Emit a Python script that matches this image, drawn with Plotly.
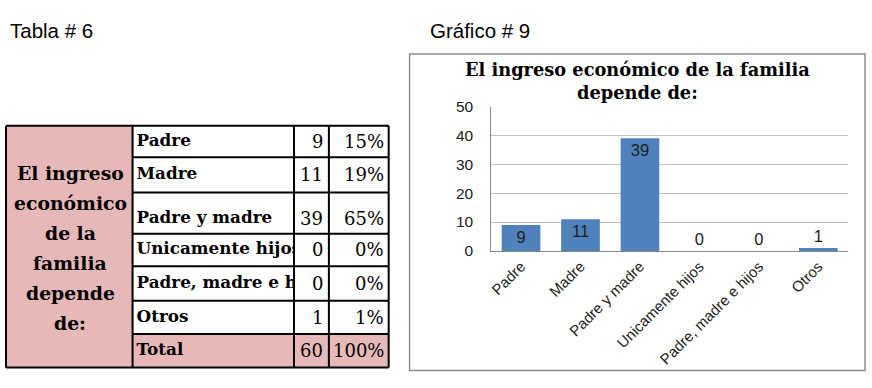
import plotly.graph_objects as go

# ---------------- data ----------------
categories = ["Padre", "Madre", "Padre y madre", "Unicamente hijos",
              "Padre, madre e hijos", "Otros"]
counts = [9, 11, 39, 0, 0, 1]
percents = ["15%", "19%", "65%", "0%", "0%", "1%"]
total_label = "Total"
total_count = 60
total_percent = "100%"
header_lines = ["El ingreso", "económico", "de la", "familia", "depende", "de:"]
chart_title = "El ingreso económico de la familia<br>depende de:"
table_caption = "Tabla # 6"
chart_caption = "Gráfico # 9"
y_ticks = [0, 10, 20, 30, 40, 50]

# ---------------- geometry helpers ----------------
W, H = 872, 388
def px(x):
    return x / W
def py(y):
    return 1 - y / H

PINK = "#E6B8B7"
BLUE = "#4F81BD"
SERIF = "DejaVu Serif"
SANS = "Liberation Sans"

col_x = [3, 130, 292, 327, 387]
row_y = [122, 155, 192, 235, 269, 305, 340, 375]

fig = go.Figure()

# ---------------- bar chart ----------------
textpos = ["inside" if v >= 5 else "outside" for v in counts]
bar_font = dict(family=SANS, size=16.5, color="#222222")
fig.add_trace(go.Bar(
    x=categories, y=counts, text=[str(v) for v in counts],
    textposition=textpos, insidetextanchor="end", constraintext="none",
    textangle=0,
    textfont=bar_font, insidetextfont=bar_font, outsidetextfont=bar_font,
    marker=dict(color=BLUE, line=dict(width=0)),
    width=0.65, cliponaxis=False, xaxis="x", yaxis="y",
    hoverinfo="skip", showlegend=False,
))

# ---------------- table column 2 text (clipped to its column) ----------------
row_labels = categories + [total_label]
label_y = []
for i in range(len(row_labels)):
    c = (row_y[i] + row_y[i + 1]) / 2
    if i == 2:
        c += 6
    label_y.append(c)
fig.add_trace(go.Scatter(
    x=[col_x[1] + 4] * len(row_labels), y=label_y, text=row_labels,
    mode="text", textposition="middle right", cliponaxis=True,
    textfont=dict(family=SERIF, size=16.8, color="black", weight="bold"),
    xaxis="x2", yaxis="y2", hoverinfo="skip", showlegend=False,
))

shapes = []
annotations = []

# pink fills
shapes.append(dict(type="rect", xref="paper", yref="paper",
                   x0=px(col_x[0]), x1=px(col_x[1]), y0=py(row_y[-1]), y1=py(row_y[0]),
                   fillcolor=PINK, line=dict(width=0), layer="below"))
shapes.append(dict(type="rect", xref="paper", yref="paper",
                   x0=px(col_x[1]), x1=px(col_x[-1]), y0=py(row_y[-1]), y1=py(row_y[-2]),
                   fillcolor=PINK, line=dict(width=0), layer="below"))
# grid lines
for x in col_x:
    shapes.append(dict(type="line", xref="paper", yref="paper",
                       x0=px(x), x1=px(x), y0=py(row_y[0]), y1=py(row_y[-1]),
                       line=dict(color="black", width=2)))
for j, y in enumerate(row_y):
    x_start = col_x[0] if j in (0, len(row_y) - 1) else col_x[1]
    shapes.append(dict(type="line", xref="paper", yref="paper",
                       x0=px(x_start), x1=px(col_x[-1]), y0=py(y), y1=py(y),
                       line=dict(color="black", width=2)))

# header lines in pink column
for k, line in enumerate(header_lines):
    annotations.append(dict(
        x=px((col_x[0] + col_x[1]) / 2 + 1), y=py(172 + 31.2 * k),
        xref="paper", yref="paper", text=line, showarrow=False,
        xanchor="center", yanchor="middle",
        font=dict(family=SERIF, size=18.8, color="black", weight="bold")))

# numbers
counts_all = [str(v) for v in counts] + [str(total_count)]
pcts_all = percents + [total_percent]
for i in range(len(row_labels)):
    annotations.append(dict(
        x=px(col_x[3] - 4), y=py(label_y[i]), xref="paper", yref="paper",
        text=counts_all[i], showarrow=False, xanchor="right", yanchor="middle",
        font=dict(family=SERIF, size=18, color="black")))
    annotations.append(dict(
        x=px(col_x[4] - 3), y=py(label_y[i]), xref="paper", yref="paper",
        text=pcts_all[i], showarrow=False, xanchor="right", yanchor="middle",
        font=dict(family=SERIF, size=18, color="black")))

# captions
annotations.append(dict(x=px(5), y=py(22), xref="paper", yref="paper",
                        text=table_caption, showarrow=False, xanchor="left", yanchor="middle",
                        font=dict(family=SANS, size=20.5, color="black")))
annotations.append(dict(x=px(426), y=py(22), xref="paper", yref="paper",
                        text=chart_caption, showarrow=False, xanchor="left", yanchor="middle",
                        font=dict(family=SANS, size=20.5, color="black")))

# chart frame
shapes.append(dict(type="rect", xref="paper", yref="paper",
                   x0=px(408), x1=px(865), y0=py(378), y1=py(47),
                   line=dict(color="#8C8C8C", width=1.5), fillcolor="rgba(0,0,0,0)"))
# chart title
annotations.append(dict(x=px(636.5), y=py(75), xref="paper", yref="paper",
                        text=chart_title, showarrow=False, xanchor="center", yanchor="middle",
                        font=dict(family=SERIF, size=17.8, color="black", weight="bold")))

fig.update_layout(
    width=W, height=H, autosize=False,
    margin=dict(l=0, r=0, t=0, b=0),
    paper_bgcolor="white", plot_bgcolor="white",
    bargap=0.35,
    xaxis=dict(domain=[px(490), px(848)], showgrid=False, showline=True,
               linecolor="#878787", linewidth=1, tickangle=-45, ticks="",
               tickfont=dict(family=SANS, size=15, color="#222222"),
               fixedrange=True),
    yaxis=dict(domain=[py(253), py(102)], range=[0, 50], tickvals=y_ticks,
               showgrid=True, gridcolor="#BFBFBF", gridwidth=1,
               showline=True, linecolor="#878787", linewidth=1,
               zeroline=False, ticks="", ticklabelstandoff=14,
               tickfont=dict(family=SANS, size=15.5, color="#222222"),
               fixedrange=True),
    xaxis2=dict(domain=[px(col_x[1] + 1), px(col_x[2] - 1)], range=[col_x[1] + 1, col_x[2] - 1],
                visible=False, fixedrange=True),
    yaxis2=dict(domain=[py(row_y[-1]), py(row_y[0])], range=[row_y[-1], row_y[0]],
                visible=False, fixedrange=True),
    shapes=shapes, annotations=annotations,
)

fig.write_html("out.html")
